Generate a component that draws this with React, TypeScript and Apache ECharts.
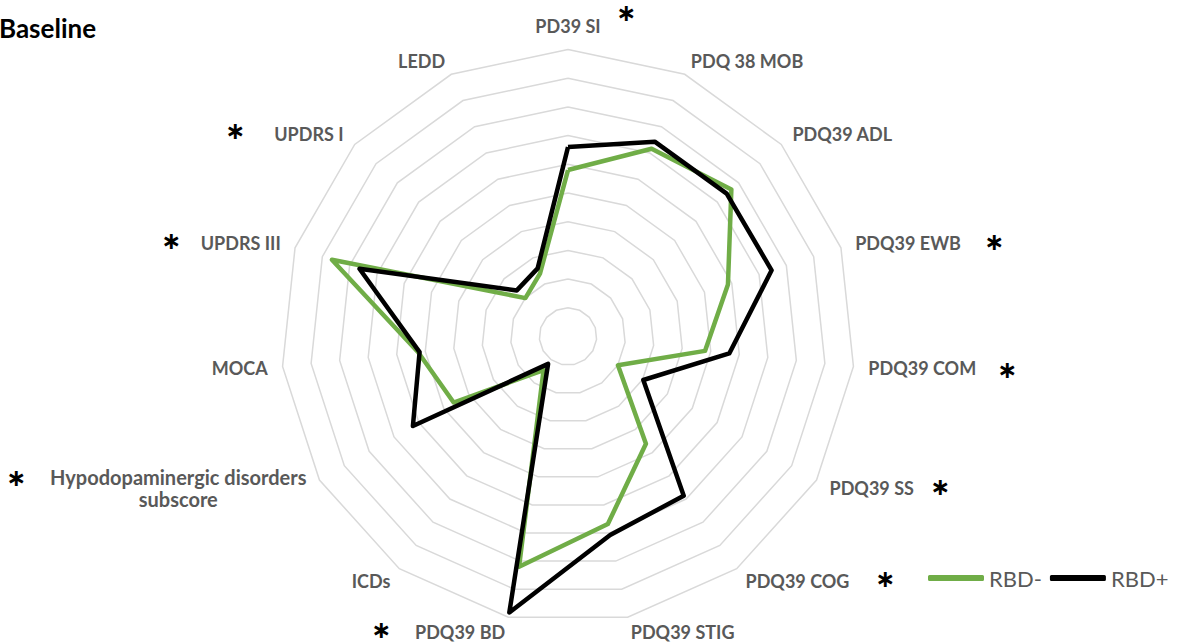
import React, { useEffect, useRef } from "react";
import * as echarts from "echarts";

// Indicators listed clockwise from the top, as in the reference
const indicators = [
  "PD39 SI",
  "PDQ 38 MOB",
  "PDQ39 ADL",
  "PDQ39 EWB",
  "PDQ39 COM",
  "PDQ39 SS",
  "PDQ39 COG",
  "PDQ39 STIG",
  "PDQ39 BD",
  "ICDs",
  "Hypodopaminergic disorders\nsubscore",
  "MOCA",
  "UPDRS III",
  "UPDRS I",
  "LEDD",
];
const rbdNeg = [5.8, 7.16, 7.66, 5.86, 4.8, 2.01, 4.62, 6.68, 8.2, 1.45, 4.6, 5.25, 8.65, 2.0, 2.4];
const rbdPos = [6.6, 7.43, 7.44, 7.46, 5.65, 3.03, 6.86, 7.07, 9.83, 1.18, 6.24, 5.2, 7.64, 2.4, 2.6];
const seriesNames = ["RBD-", "RBD+"];
const axisMax = 10;

const stars: [number, number][] = [
  [626, 13],
  [994, 242],
  [1007, 370],
  [940, 487],
  [885, 579],
  [381, 630],
  [16, 478],
  [171, 241],
  [235, 131],
];

// ECharts radar runs counter-clockwise; reorder so the chart reads clockwise
const order = indicators.map((_, i) => (i === 0 ? 0 : indicators.length - i));
const pick = <T,>(arr: T[]) => order.map((i) => arr[i]);

export default function App() {
  const ref = useRef<HTMLDivElement>(null);
  useEffect(() => {
    const chart = echarts.init(ref.current!, null, { renderer: "svg" });
    const labelStyle = {
      color: "#595959",
      fontFamily: "Lato",
      fontWeight: "bold" as const,
      fontSize: 18,
    };
    chart.setOption({
      animation: false,
      backgroundColor: "#fff",
      title: {
        text: "Baseline",
        left: -6,
        top: 10,
        textStyle: { color: "#000", fontFamily: "Lato", fontWeight: "bold", fontSize: 26 },
      },
      legend: {
        left: 923,
        top: 562,
        width: 260,
        itemWidth: 56,
        itemHeight: 6,
        itemGap: 8,
        icon: "roundRect",
        data: seriesNames,
        textStyle: { color: "#595959", fontFamily: "Lato", fontSize: 22 },
      },
      radar: {
        center: [568, 336.5],
        radius: 287,
        startAngle: 90,
        shape: "polygon",
        splitNumber: 10,
        indicator: pick(indicators).map((n) => ({ name: n, max: axisMax, min: 0 })),
        axisName: {
          ...labelStyle,
          formatter: (name: string) =>
            name.includes("\n")
              ? name
                  .split("\n")
                  .map((s) => `{c|${s}}`)
                  .join("\n")
              : name,
          rich: {
            c: { ...labelStyle, fontSize: 20, align: "center", lineHeight: 22 },
          },
        },
        nameGap: 15,
        axisLine: { show: false },
        axisTick: { show: false },
        axisLabel: { show: false },
        splitArea: { show: false },
        splitLine: { lineStyle: { color: "#D9D9D9", width: 1.5 } },
      },
      series: [
        {
          type: "radar",
          symbol: "none",
          data: [
            {
              name: seriesNames[0],
              value: pick(rbdNeg),
              lineStyle: { color: "#70AD47", width: 4.5 },
              itemStyle: { color: "#70AD47" },
            },
            {
              name: seriesNames[1],
              value: pick(rbdPos),
              lineStyle: { color: "#000000", width: 4.5 },
              itemStyle: { color: "#000000" },
            },
          ],
        },
      ],
      graphic: stars.map(([x, y]) => ({
        type: "text",
        x,
        y,
        style: {
          text: "∗",
          fill: "#000",
          fontFamily: "DejaVu Sans",
          fontWeight: "bold",
          fontSize: 24,
          lineHeight: 14,
          align: "center",
          verticalAlign: "middle",
        },
      })),
    });
    return () => chart.dispose();
  }, []);
  return (
    <div
      ref={ref}
      style={{ position: "fixed", left: 0, top: 0, width: 1177, height: 643 }}
    />
  );
}
